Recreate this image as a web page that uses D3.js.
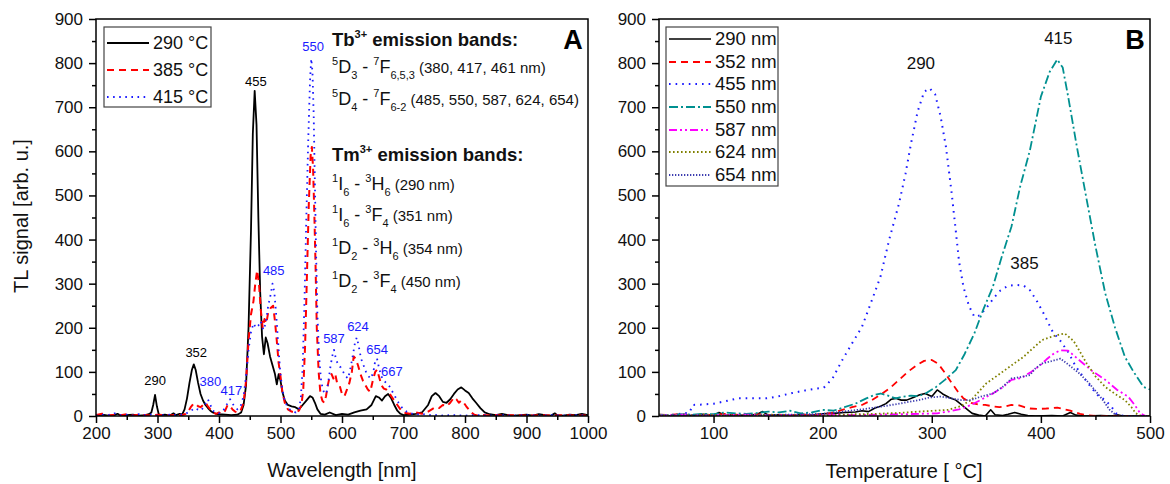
<!DOCTYPE html>
<html>
<head>
<meta charset="utf-8">
<script src="https://cdn.jsdelivr.net/npm/d3@7"></script>
<style>
  body { margin: 0; background: #fff; }
  svg { display: block; font-family: "Liberation Sans", Arial, sans-serif; }
</style>
</head>
<body>
<svg id="chart" width="1170" height="484"></svg>
<script>
// ---------- Panel A: TL emission spectra, [wavelength nm, signal] ----------
const spec290 = [[200,1],[210,3],[220,1],[230,2],[235,5],[240,1],[250,2],[260,3],[270,1],[280,2],[286,4],[290,8],[293,25],[296,48],[299,22],[302,4],[306,2],[312,3],[320,1],[326,6],[330,2],[336,5],[340,3],[344,15],[348,40],[352,75],[356,105],[359,117],[362,105],[366,75],[370,50],[374,35],[378,25],[382,18],[386,12],[390,8],[395,5],[400,4],[410,3],[420,2],[430,3],[436,8],[440,25],[444,70],[448,200],[452,420],[455,640],[458,737],[461,660],[464,450],[467,280],[470,180],[473,140],[476,178],[479,165],[483,135],[487,115],[491,95],[494,72],[497,95],[500,80],[503,55],[507,35],[512,25],[518,22],[524,20],[530,15],[536,25],[542,35],[548,45],[552,42],[556,30],[560,15],[565,5],[572,3],[580,8],[590,2],[600,5],[610,3],[620,8],[630,12],[640,15],[648,25],[655,45],[660,42],[665,35],[670,45],[675,50],[680,40],[685,25],[690,12],[695,5],[700,2],[710,3],[720,5],[730,8],[740,25],[746,45],[752,52],[758,45],[764,32],[770,30],[776,38],[782,50],[788,60],[794,65],[800,58],[806,52],[812,40],[818,30],[825,18],[832,8],[840,4],[850,2],[860,5],[870,2],[880,1],[890,2],[900,3],[910,1],[920,4],[930,2],[940,1],[946,6],[950,2],[960,1],[970,3],[980,2],[990,5],[1000,2]];

const spec385 = [[200,2],[210,5],[220,1],[230,3],[240,2],[250,4],[260,1],[270,3],[280,2],[290,1],[300,3],[310,2],[320,1],[330,3],[340,2],[346,5],[350,10],[354,20],[358,27],[362,28],[366,22],[370,20],[374,25],[378,30],[382,22],[386,15],[390,8],[395,5],[400,8],[405,5],[410,12],[414,25],[418,22],[422,15],[426,10],[430,8],[435,12],[440,30],[444,80],[448,170],[452,230],[456,260],[459,300],[462,330],[465,300],[468,240],[471,200],[474,220],[477,210],[480,235],[484,245],[488,250],[491,215],[494,170],[497,120],[500,90],[503,55],[507,30],[512,15],[518,10],[524,8],[530,12],[534,25],[537,60],[540,160],[543,320],[546,480],[549,590],[551,610],[553,560],[555,460],[557,340],[559,200],[562,100],[565,50],[568,35],[571,30],[574,45],[577,70],[580,90],[583,95],[586,85],[589,95],[592,75],[596,70],[600,50],[604,45],[608,60],[612,75],[616,100],[619,135],[622,130],[626,115],[630,95],[634,80],[638,70],[642,60],[646,55],[650,80],[654,100],[657,105],[660,90],[664,70],[668,62],[672,60],[676,55],[680,45],[685,35],[690,25],[695,15],[700,8],[710,5],[720,8],[730,5],[740,10],[746,15],[752,20],[758,18],[764,25],[770,22],[776,30],[782,42],[786,38],[790,30],[794,35],[798,30],[802,22],[806,15],[810,8],[815,3],[820,1],[830,2],[840,1],[850,2],[860,1],[880,2],[900,1],[920,2],[940,1],[960,2],[980,1],[1000,1]];

const spec415 = [[200,1],[210,3],[220,2],[230,6],[240,2],[250,3],[260,1],[270,4],[280,2],[290,3],[300,1],[310,2],[320,3],[330,2],[340,3],[345,5],[350,8],[355,12],[360,18],[365,15],[370,12],[374,18],[378,28],[382,38],[386,25],[390,12],[395,8],[400,6],[405,10],[410,18],[414,30],[418,38],[422,28],[426,20],[430,15],[435,22],[440,45],[444,90],[448,150],[452,190],[456,210],[460,200],[464,205],[468,215],[472,195],[476,210],[480,250],[484,275],[487,300],[490,280],[493,230],[496,170],[499,110],[502,70],[506,40],[510,25],[515,15],[520,10],[525,8],[530,15],[533,40],[536,110],[539,260],[542,450],[545,620],[548,760],[550,810],[552,780],[554,680],[556,520],[558,360],[560,230],[563,130],[566,80],[569,60],[572,50],[575,55],[578,80],[581,110],[584,135],[587,150],[590,130],[594,115],[598,110],[602,100],[606,90],[610,85],[614,110],[618,140],[621,165],[624,178],[627,160],[631,130],[635,115],[639,100],[643,90],[647,85],[651,100],[654,125],[657,130],[660,110],[664,90],[668,80],[672,75],[676,70],[680,60],[686,45],[692,30],[698,18],[705,10],[712,6],[720,3],[730,5],[740,2],[750,3],[760,1],[780,2],[800,1],[820,2],[840,1],[860,2],[880,1],[900,2],[920,1],[940,2],[960,1],[980,2],[1000,1]];

// peak labels: [text, wavelength position, signal position, colour]
const peakLabelsA = [
  ["290", 296, 70, "#000"], ["352", 363, 134, "#000"], ["455", 460, 748, "#000"],
  ["380", 386, 68, "#1a1aff"], ["417", 420, 48, "#1a1aff"], ["485", 489, 320, "#1a1aff"],
  ["550", 553, 828, "#1a1aff"], ["587", 587, 165, "#1a1aff"], ["624", 626, 193, "#1a1aff"],
  ["654", 657, 141, "#1a1aff"], ["667", 681, 91, "#1a1aff"]
];

// ---------- Panel B: TL glow curves, [temperature °C, signal] ----------
const glow290 = [[50,2],[60,0],[70,3],[80,1],[90,4],[100,2],[105,8],[110,2],[120,3],[130,1],[140,4],[145,10],[150,2],[160,3],[170,1],[180,4],[190,2],[200,5],[210,6],[220,8],[230,9],[236,12],[242,10],[248,18],[253,22],[258,28],[263,38],[267,40],[272,36],[277,36],[283,42],[289,48],[294,51],[300,44],[305,59],[310,50],[316,42],[322,36],[328,24],[333,14],[337,6],[343,2],[349,0],[354,14],[358,3],[365,1],[370,4],[376,8],[382,4],[388,1],[395,0],[410,1],[420,0],[427,8],[432,2],[440,0],[455,1],[465,0],[470,3],[475,0],[490,0],[500,0]];

const glow352 = [[50,3],[60,2],[70,5],[80,1],[90,3],[100,2],[110,5],[120,3],[130,2],[140,4],[150,2],[160,3],[170,1],[180,3],[190,2],[200,4],[210,8],[218,14],[227,20],[236,25],[245,36],[253,48],[262,64],[270,82],[278,100],[286,115],[293,125],[300,127],[306,118],[312,98],[318,76],[324,55],[329,40],[336,30],[343,26],[349,25],[356,22],[362,20],[368,22],[373,25],[380,24],[385,20],[390,17],[398,16],[405,17],[410,18],[415,19],[420,16],[427,12],[432,8],[436,5],[442,2],[450,0],[470,0],[500,0]];

const glow455 = [[50,0],[60,2],[70,5],[78,8],[81,25],[90,26],[100,28],[110,33],[122,40],[135,40],[149,40],[160,45],[172,52],[184,58],[194,62],[201,64],[209,85],[218,127],[227,165],[236,202],[244,255],[253,316],[261,400],[270,482],[276,550],[281,618],[287,690],[293,735],[298,743],[303,730],[308,680],[313,610],[318,510],[322,420],[325,350],[329,293],[334,250],[339,225],[344,228],[350,245],[357,268],[363,285],[370,295],[377,297],[384,296],[390,285],[396,262],[402,235],[411,190],[418,170],[425,145],[432,112],[440,85],[447,62],[453,45],[459,36],[465,20],[469,6],[474,1],[480,0],[500,0]];

const glow550 = [[50,3],[60,2],[70,4],[80,3],[90,5],[100,4],[110,8],[120,6],[130,5],[140,7],[150,10],[160,8],[170,12],[180,6],[190,8],[200,14],[210,12],[220,20],[230,28],[240,40],[248,48],[253,51],[260,46],[267,40],[274,44],[281,46],[288,45],[295,52],[304,66],[312,82],[322,104],[330,140],[339,187],[347,240],[356,293],[364,360],[373,429],[381,520],[390,603],[400,724],[408,780],[415,808],[420,790],[425,724],[433,610],[442,490],[450,385],[459,278],[468,200],[477,134],[485,100],[494,66],[500,60]];

const glow587 = [[50,1],[70,3],[90,1],[110,2],[130,3],[150,1],[170,2],[190,1],[210,3],[230,2],[250,3],[270,4],[290,5],[305,6],[315,10],[325,15],[336,25],[346,38],[356,51],[365,65],[373,82],[380,85],[384,89],[391,100],[398,112],[405,128],[412,142],[418,149],[425,148],[435,127],[447,102],[459,82],[470,59],[480,44],[486,25],[491,6],[496,0],[500,0]];

const glow624 = [[50,2],[70,1],[90,3],[110,2],[130,1],[150,3],[170,2],[190,1],[210,2],[230,4],[250,5],[270,7],[288,10],[302,12],[315,14],[326,22],[336,36],[343,55],[350,74],[358,88],[367,104],[376,120],[384,134],[392,152],[401,172],[410,180],[416,184],[422,187],[430,170],[436,145],[442,119],[450,90],[459,66],[468,50],[477,36],[483,20],[487,6],[492,0],[500,0]];

const glow654 = [[50,1],[80,2],[110,1],[140,2],[170,3],[200,5],[218,10],[236,15],[253,21],[270,28],[288,36],[298,42],[308,44],[318,40],[327,36],[336,36],[345,44],[356,51],[365,66],[373,85],[381,88],[390,93],[395,108],[401,119],[409,124],[418,130],[426,115],[435,97],[444,75],[452,51],[458,32],[463,14],[468,4],[472,0],[500,0]];

const peakLabelsB = [["290", 290, 787], ["415", 416, 843], ["385", 385, 333]];

// ---------- axis ticks ----------
const ticksWl = [200, 300, 400, 500, 600, 700, 800, 900, 1000];
const minorWl = [250, 350, 450, 550, 650, 750, 850, 950];
const ticksT = [100, 200, 300, 400, 500];
const minorT = [150, 250, 350, 450];
const ticksY = [0, 100, 200, 300, 400, 500, 600, 700, 800, 900];
const minorY = [50, 150, 250, 350, 450, 550, 650, 750, 850];

// series definitions
const seriesA = [
  { name: "290 °C", data: spec290, color: "#000000", dash: null, w: 1.8 },
  { name: "385 °C", data: spec385, color: "#ff0000", dash: "7,5", w: 2.0 },
  { name: "415 °C", data: spec415, color: "#1a1aff", dash: "1.6,4.5", w: 1.8 }
];
const seriesB = [
  { name: "290 nm", data: glow290, color: "#000000", dash: null, w: 1.6 },
  { name: "352 nm", data: glow352, color: "#ff0000", dash: "7,5", w: 1.8 },
  { name: "455 nm", data: glow455, color: "#1a1aff", dash: "1.6,5", w: 2.0 },
  { name: "550 nm", data: glow550, color: "#009090", dash: "9,3,2,3", w: 1.8 },
  { name: "587 nm", data: glow587, color: "#ff00ff", dash: "8,3,2,3,2,3", w: 1.8 },
  { name: "624 nm", data: glow624, color: "#808000", dash: "1.6,2.4", w: 1.8 },
  { name: "654 nm", data: glow654, color: "#3d3db0", dash: "1.3,1.7", w: 1.8 }
];

const svg = d3.select("#chart");
const FONT_TICK = 17;

function drawPanel(opts) {
  const { left, right, top, bottom, xDomain, xTicks, xMinor, series, clipId } = opts;
  const x = d3.scaleLinear().domain(xDomain).range([left, right]);
  const y = d3.scaleLinear().domain([0, 900]).range([bottom, top]);
  const g = svg.append("g");

  g.append("clipPath").attr("id", clipId)
    .append("rect").attr("x", left).attr("y", top).attr("width", right - left).attr("height", bottom - top);

  // lines
  const line = d3.line().x(d => x(d[0])).y(d => y(d[1]));
  const lines = g.append("g").attr("clip-path", `url(#${clipId})`);
  series.forEach(s => {
    lines.append("path")
      .attr("d", line(s.data))
      .attr("fill", "none")
      .attr("stroke", s.color)
      .attr("stroke-width", s.w)
      .attr("stroke-dasharray", s.dash)
      .attr("stroke-linejoin", "round");
  });

  // frame
  g.append("rect").attr("x", left).attr("y", top).attr("width", right - left).attr("height", bottom - top)
    .attr("fill", "none").attr("stroke", "#000").attr("stroke-width", 1.5);

  // axes
  const styleAxis = sel => {
    sel.select(".domain").remove();
    sel.selectAll("line").attr("stroke", "#000").attr("stroke-width", 1.5);
    sel.selectAll("text").attr("font-size", FONT_TICK).attr("fill", "#111")
      .attr("font-family", '"Liberation Sans", Arial, sans-serif');
  };
  g.append("g").attr("transform", `translate(0,${bottom})`)
    .call(d3.axisBottom(x).tickValues(xTicks).tickSize(7).tickPadding(4).tickFormat(d3.format("d")))
    .call(styleAxis);
  g.append("g").attr("transform", `translate(0,${bottom})`)
    .call(d3.axisBottom(x).tickValues(xMinor).tickSize(4).tickFormat(""))
    .call(styleAxis);
  g.append("g").attr("transform", `translate(${left},0)`)
    .call(d3.axisLeft(y).tickValues(ticksY).tickSize(7).tickPadding(6).tickFormat(d3.format("d")))
    .call(styleAxis);
  g.append("g").attr("transform", `translate(${left},0)`)
    .call(d3.axisLeft(y).tickValues(minorY).tickSize(4).tickFormat(""))
    .call(styleAxis);

  return { x, y, g };
}

function drawLegend(g, x0, y0, w, h, rowY, series, fontSize) {
  g.append("rect").attr("x", x0).attr("y", y0).attr("width", w).attr("height", h)
    .attr("fill", "#fff").attr("stroke", "#444").attr("stroke-width", 1.2);
  series.forEach((s, i) => {
    const cy = rowY[i];
    g.append("line").attr("x1", x0 + 3).attr("x2", x0 + 45).attr("y1", cy).attr("y2", cy)
      .attr("stroke", s.color).attr("stroke-width", s.w).attr("stroke-dasharray", s.dash);
    g.append("text").attr("x", x0 + 49).attr("y", cy).attr("dy", "0.35em")
      .attr("font-size", fontSize).attr("fill", "#111").text(s.name);
  });
}

// rich text with super/subscripts: parts = [text, size, verticalOffset, weight]
function richText(g, x, y, parts) {
  const t = g.append("text").attr("x", x).attr("y", y).attr("fill", "#111");
  let cur = 0;
  parts.forEach(([txt, size, off, weight]) => {
    t.append("tspan").attr("dy", off - cur).attr("font-size", size)
      .attr("font-weight", weight || "normal").text(txt);
    cur = off;
  });
  return t;
}

// ---------- Panel A ----------
const A = drawPanel({
  left: 96, right: 588, top: 19, bottom: 416,
  xDomain: [200, 1000], xTicks: ticksWl, xMinor: minorWl,
  series: seriesA, clipId: "clipA"
});
drawLegend(A.g, 104, 27, 107, 80, [43, 70, 97], seriesA, 18);

peakLabelsA.forEach(([txt, wx, sy, col]) => {
  A.g.append("text").attr("x", A.x(wx)).attr("y", A.y(sy)).attr("text-anchor", "middle")
    .attr("font-size", 13).attr("fill", col).text(txt);
});

const S = 18, s = 11, P = 15, UP = -8, DN = 6;
richText(A.g, 332, 46, [["Tb", 18.5, 0, "bold"], ["3+", s, UP, "bold"], [" emission bands:", 18.5, 0, "bold"]]);
richText(A.g, 332, 73, [["5", s, UP], ["D", S, 0], ["3", s, DN], [" - ", S, 0], ["7", s, UP], ["F", S, 0], ["6,5,3", s, DN], [" (380, 417, 461 nm)", P, 0]]);
richText(A.g, 332, 105, [["5", s, UP], ["D", S, 0], ["4", s, DN], [" - ", S, 0], ["7", s, UP], ["F", S, 0], ["6-2", s, DN], [" (485, 550, 587, 624, 654)", P, 0]]);
richText(A.g, 332, 161, [["Tm", 18.5, 0, "bold"], ["3+", s, UP, "bold"], ["  emission bands:", 18.5, 0, "bold"]]);
richText(A.g, 332, 190, [["1", s, UP], ["I", S, 0], ["6", s, DN], [" - ", S, 0], ["3", s, UP], ["H", S, 0], ["6", s, DN], [" (290 nm)", P, 0]]);
richText(A.g, 332, 221, [["1", s, UP], ["I", S, 0], ["6", s, DN], [" - ", S, 0], ["3", s, UP], ["F", S, 0], ["4", s, DN], [" (351 nm)", P, 0]]);
richText(A.g, 332, 254, [["1", s, UP], ["D", S, 0], ["2", s, DN], [" - ", S, 0], ["3", s, UP], ["H", S, 0], ["6", s, DN], [" (354 nm)", P, 0]]);
richText(A.g, 332, 287, [["1", s, UP], ["D", S, 0], ["2", s, DN], [" - ", S, 0], ["3", s, UP], ["F", S, 0], ["4", s, DN], [" (450 nm)", P, 0]]);

A.g.append("text").attr("x", 573).attr("y", 49).attr("text-anchor", "middle")
  .attr("font-size", 27).attr("font-weight", "bold").attr("fill", "#000").text("A");

// ---------- Panel B ----------
const B = drawPanel({
  left: 659, right: 1150, top: 19, bottom: 416,
  xDomain: [50, 500], xTicks: ticksT, xMinor: minorT,
  series: seriesB, clipId: "clipB"
});
drawLegend(B.g, 666, 27, 112, 159, [39, 62, 84, 107, 130, 152, 175], seriesB, 18.5);

peakLabelsB.forEach(([txt, tx, sy]) => {
  B.g.append("text").attr("x", B.x(tx)).attr("y", B.y(sy)).attr("text-anchor", "middle")
    .attr("font-size", 17).attr("fill", "#111").text(txt);
});
B.g.append("text").attr("x", 1135).attr("y", 49).attr("text-anchor", "middle")
  .attr("font-size", 27).attr("font-weight", "bold").attr("fill", "#000").text("B");

// ---------- axis titles ----------
svg.append("text").attr("transform", "translate(28,216) rotate(-90)").attr("text-anchor", "middle")
  .attr("font-size", 20).attr("fill", "#111").text("TL signal [arb. u.]");
svg.append("text").attr("x", 342).attr("y", 477).attr("text-anchor", "middle")
  .attr("font-size", 20).attr("fill", "#111").text("Wavelength [nm]");
svg.append("text").attr("x", 904).attr("y", 478).attr("text-anchor", "middle")
  .attr("font-size", 20).attr("fill", "#111").text("Temperature [ °C]");
</script>
</body>
</html>
